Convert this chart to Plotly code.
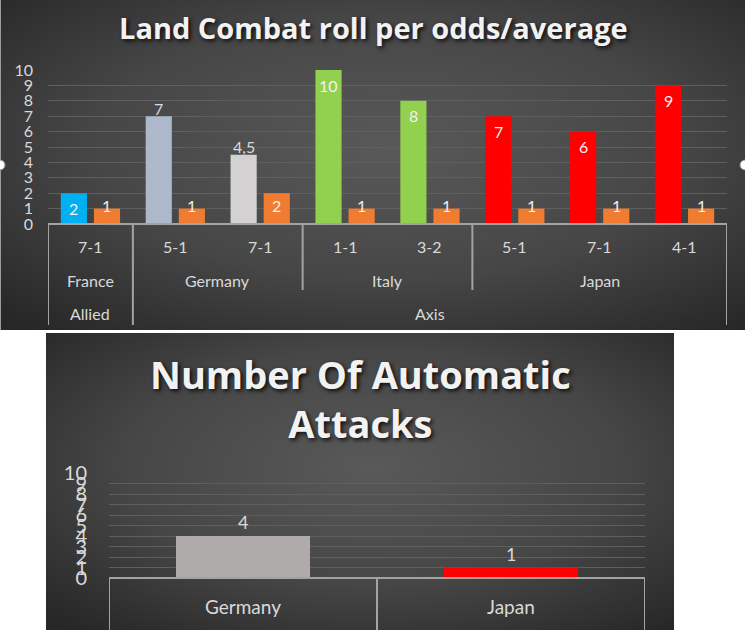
import base64
import plotly.graph_objects as go

# ---------------- data ----------------
alliances = ["Allied", "Axis", "Axis", "Axis", "Axis", "Axis", "Axis", "Axis"]
countries = ["France", "Germany", "Germany", "Italy", "Italy", "Japan", "Japan", "Japan"]
odds = ["7-1", "5-1", "7-1", "1-1", "3-2", "5-1", "7-1", "4-1"]
roll_values = [2, 7, 4.5, 10, 8, 7, 6, 9]
average_values = [1, 1, 2, 1, 1, 1, 1, 1]

auto_countries = ["Germany", "Japan"]
auto_attacks = [4, 1]

y_ticks = list(range(0, 11))

# ---------------- styles ----------------
roll_colors = ["#00B0F0", "#ADB9CA", "#D3D1D1", "#92D050", "#92D050", "#FF0000", "#FF0000", "#FF0000"]
roll_label_pos = ["in", "out", "out", "in", "in", "in", "in", "in"]
avg_color = "#EF7C30"
auto_colors = ["#AFABAB", "#FF0000"]
TXT = "#D9D9D9"
WHITE = "#F2F2F2"
LINE = "#A3A3A3"
GRID = "#5F5F5F"
FONT = "Lato"
TITLE_FONT = "Open Sans"
SHADOW = "2px 2px 4px rgba(0,0,0,0.85)"

W, H = 745, 630


def px(x):
    return x / W


def py(y):
    return 1 - y / H


def fmt(v):
    return f"{v:g}".replace(".", ",")


def grad_svg(w, h):
    svg = (
        f'<svg xmlns="http://www.w3.org/2000/svg" width="{w}" height="{h}" viewBox="0 0 {w} {h}" '
        f'preserveAspectRatio="none"><defs><radialGradient id="g" cx="52%" cy="45%" r="72%">'
        f'<stop offset="0" stop-color="#595959"/><stop offset="0.55" stop-color="#464646"/>'
        f'<stop offset="1" stop-color="#272727"/></radialGradient></defs>'
        f'<rect width="{w}" height="{h}" fill="url(#g)"/></svg>'
    )
    return "data:image/svg+xml;base64," + base64.b64encode(svg.encode()).decode()


idx = list(range(len(odds)))
bargap = 0.22
bargroupgap = 0.21
slot = (1 - bargap) / 2

fig = go.Figure()
fig.add_trace(go.Bar(x=idx, y=roll_values, marker=dict(color=roll_colors, line_width=0),
                     xaxis="x", yaxis="y", name="Roll", hoverinfo="y"))
fig.add_trace(go.Bar(x=idx, y=average_values, marker=dict(color=avg_color, line_width=0),
                     xaxis="x", yaxis="y", name="Average", hoverinfo="y"))
fig.add_trace(go.Bar(x=auto_countries, y=auto_attacks, width=0.5,
                     marker=dict(color=auto_colors, line_width=0),
                     xaxis="x2", yaxis="y2", name="Automatic attacks", hoverinfo="y"))

annotations = []
shapes = []

# titles
annotations.append(dict(text="Land Combat roll per odds/average", x=px(373), y=py(28),
                        xref="paper", yref="paper", showarrow=False, xanchor="center", yanchor="middle",
                        font=dict(family=TITLE_FONT, size=29, color=WHITE, weight="bold", shadow=SHADOW)))
annotations.append(dict(text="Number Of Automatic<br>Attacks", x=px(360), y=py(398),
                        xref="paper", yref="paper", showarrow=False, xanchor="center", yanchor="middle",
                        font=dict(family=TITLE_FONT, size=38, color=WHITE, weight="bold", shadow=SHADOW)))

# bar labels top chart
for i, v in enumerate(roll_values):
    inside = roll_label_pos[i] == "in"
    annotations.append(dict(text=fmt(v), x=i - slot / 2, y=v, xref="x", yref="y", showarrow=False,
                            yanchor="middle", yshift=(-15 if inside else 8),
                            font=dict(family=FONT, size=16, color=WHITE if inside else TXT)))
for i, v in enumerate(average_values):
    annotations.append(dict(text=fmt(v), x=i + slot / 2, y=v, xref="x", yref="y", showarrow=False,
                            yanchor="middle", yshift=(-12 if v > 1 else 3),
                            font=dict(family=FONT, size=16, color=WHITE)))

# bar labels bottom chart
for c, v in zip(auto_countries, auto_attacks):
    annotations.append(dict(text=fmt(v), x=c, y=v, xref="x2", yref="y2", showarrow=False,
                            yanchor="bottom", yshift=1,
                            font=dict(family=FONT, size=18, color=TXT)))

# multi-level category rows (top chart)
for i, o in enumerate(odds):
    annotations.append(dict(text=o, x=i, y=py(247), xref="x", yref="paper", showarrow=False,
                            yanchor="middle", font=dict(family=FONT, size=16, color=TXT)))


def groups(labels):
    out = []
    start = 0
    for i in range(1, len(labels) + 1):
        if i == len(labels) or labels[i] != labels[start]:
            out.append((labels[start], start, i - 1))
            start = i
    return out


for name, a, b in groups(countries):
    annotations.append(dict(text=name, x=(a + b) / 2, y=py(280), xref="x", yref="paper", showarrow=False,
                            yanchor="middle", font=dict(family=FONT, size=16, color=TXT)))
for name, a, b in groups(alliances):
    annotations.append(dict(text=name, x=(a + b) / 2, y=py(313), xref="x", yref="paper", showarrow=False,
                            yanchor="middle", font=dict(family=FONT, size=16, color=TXT)))

# axis line and dividers (top chart)
shapes.append(dict(type="line", xref="x", yref="paper", x0=-0.5, x1=len(odds) - 0.5, y0=py(224), y1=py(224),
                   line=dict(color=LINE, width=2)))
bounds = [(-0.5, True)]
for i in range(1, len(odds)):
    if countries[i] != countries[i - 1]:
        bounds.append((i - 0.5, alliances[i] != alliances[i - 1]))
bounds.append((len(odds) - 0.5, True))
for bx, full in bounds:
    shapes.append(dict(type="line", xref="x", yref="paper", x0=bx, x1=bx, y0=py(224),
                       y1=py(325 if full else 290), line=dict(color=LINE, width=2)))

# bottom chart axis line and dividers
for c in auto_countries:
    annotations.append(dict(text=c, x=c, y=py(606), xref="x2", yref="paper", showarrow=False,
                            yanchor="middle", font=dict(family=FONT, size=19, color=TXT)))
shapes.append(dict(type="line", xref="x2", yref="paper", x0=-0.5, x1=len(auto_countries) - 0.5,
                   y0=py(578), y1=py(578), line=dict(color=LINE, width=2)))
for k in range(len(auto_countries) + 1):
    shapes.append(dict(type="line", xref="x2", yref="paper", x0=k - 0.5, x1=k - 0.5, y0=py(578),
                       y1=py(632), line=dict(color=LINE, width=2)))

# chart frame details
shapes.append(dict(type="line", xref="paper", yref="paper", x0=px(0.5), x1=px(0.5), y0=py(0), y1=py(330),
                   line=dict(color="#9C9C9C", width=1), layer="above"))
for cx in (0, 745):
    shapes.append(dict(type="circle", xref="paper", yref="paper", x0=px(cx - 5), x1=px(cx + 5),
                       y0=py(170), y1=py(160), fillcolor="white", line=dict(color="#8A8A8A", width=1)))

images = [
    dict(source=grad_svg(745, 330), xref="paper", yref="paper", x=px(0), y=py(0), sizex=px(745),
         sizey=330 / H, sizing="stretch", xanchor="left", yanchor="top", layer="below"),
    dict(source=grad_svg(628, 297), xref="paper", yref="paper", x=px(46), y=py(333), sizex=628 / W,
         sizey=297 / H, sizing="stretch", xanchor="left", yanchor="top", layer="below"),
]

axis_common = dict(showline=False, zeroline=False, fixedrange=True, automargin=False)
fig.update_layout(
    width=W, height=H, margin=dict(l=0, r=0, t=0, b=0, pad=0, autoexpand=False),
    paper_bgcolor="white", plot_bgcolor="rgba(0,0,0,0)",
    showlegend=False, barmode="group", bargap=bargap, bargroupgap=bargroupgap,
    separators=",.",
    font=dict(family=FONT, color=TXT),
    xaxis=dict(domain=[px(48), px(727)], range=[-0.5, len(odds) - 0.5], showticklabels=False,
               showgrid=False, anchor="y", **axis_common),
    yaxis=dict(domain=[py(224), py(70)], range=[0, 10], tickmode="array", tickvals=y_ticks,
               gridcolor=GRID, gridwidth=1, tickfont=dict(family=FONT, size=16, color=TXT),
               ticks="", ticklabelstandoff=14, anchor="x", **axis_common),
    xaxis2=dict(domain=[px(109), px(645)], range=[-0.5, len(auto_countries) - 0.5], showticklabels=False,
                showgrid=False, anchor="y2", type="category", **axis_common),
    yaxis2=dict(domain=[py(578), py(473)], range=[0, 10], tickmode="array", tickvals=y_ticks,
                gridcolor=GRID, gridwidth=1, tickfont=dict(family=FONT, size=20, color=TXT),
                ticks="", ticklabelstandoff=21, anchor="x2", **axis_common),
    annotations=annotations, shapes=shapes, images=images,
)

fig.write_html("out.html")
